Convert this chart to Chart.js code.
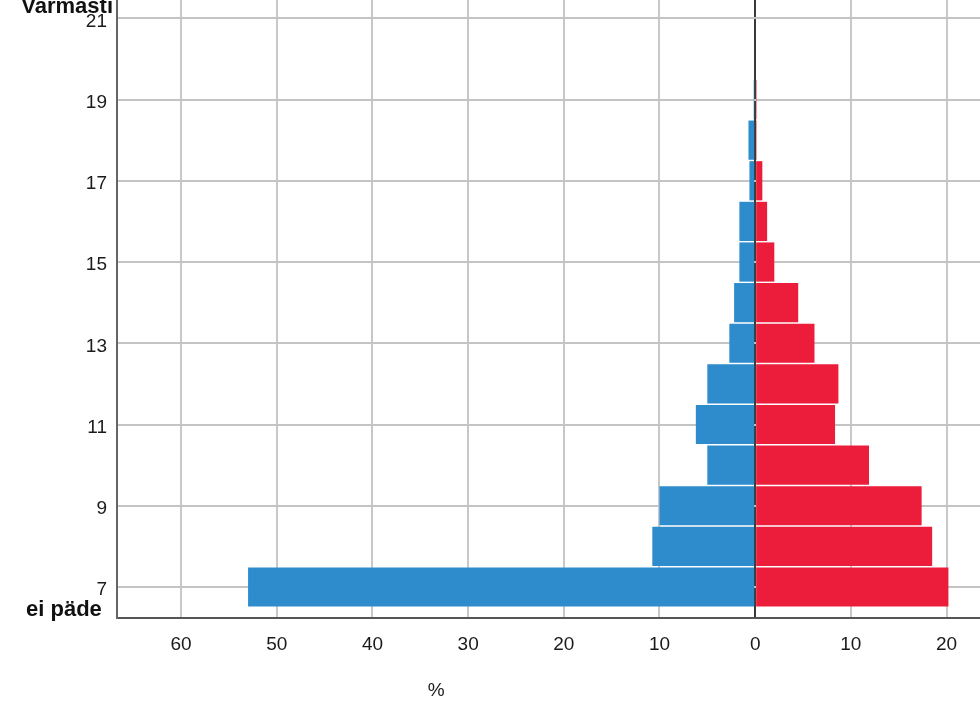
<!DOCTYPE html>
<html>
<head>
<meta charset="utf-8">
<script src="https://cdn.jsdelivr.net/npm/chart.js@4/dist/chart.umd.min.js"></script>
<style>
  html, body { margin: 0; padding: 0; background: #ffffff; }
  #wrap { width: 980px; height: 727px; position: relative; }
</style>
</head>
<body>
<div id="wrap"><canvas id="c" width="980" height="727"></canvas></div>
<script>
// Response levels (y axis)
const levels = [7, 8, 9, 10, 11, 12, 13, 14, 15, 16, 17, 18, 19, 20];
// Left (blue) group, percent
const leftGroup = [53.0, 10.75, 10.0, 5.0, 6.2, 5.0, 2.7, 2.2, 1.65, 1.65, 0.6, 0.7, 0.15, 0.1];
// Right (red) group, percent
const rightGroup = [20.2, 18.5, 17.4, 11.9, 8.35, 8.7, 6.2, 4.5, 2.0, 1.25, 0.75, 0.15, 0.15, 0];
// Tick labels
const yTicks = [7, 9, 11, 13, 15, 17, 19, 21];
const xTicks = [-60, -50, -40, -30, -20, -10, 0, 10, 20];
const topLabel = 'Varmasti';
const bottomLabel = 'ei päde';
const xTitle = '%';

const X_MIN = -66.7, X_MAX = 23.5;
const Y_MIN = 6.237, Y_MAX = 21.45;

const tickFont = { family: "'Liberation Sans', Arial, sans-serif", size: 19 };

const labelsPlugin = {
  id: 'extraLabels',
  afterDraw(chart) {
    const ctx = chart.ctx;
    const xs = chart.scales.x;
    ctx.save();
    ctx.fillStyle = '#111';
    ctx.font = "bold 22px 'Liberation Sans', Arial, sans-serif";
    ctx.textAlign = 'right';
    ctx.textBaseline = 'alphabetic';
    ctx.fillText(topLabel, 113, 13);
    ctx.textAlign = 'left';
    ctx.fillText(bottomLabel, 26, 616);
    ctx.font = "19px 'Liberation Sans', Arial, sans-serif";
    ctx.fillStyle = '#1a1a1a';
    ctx.textAlign = 'center';
    ctx.textBaseline = 'middle';
    ctx.fillText(xTitle, xs.getPixelForValue(X_MIN / 2), 691);
    ctx.restore();
  }
};

new Chart(document.getElementById('c'), {
  type: 'bar',
  data: {
    datasets: [
      {
        label: 'left',
        data: levels.map((l, i) => ({ x: -leftGroup[i], y: l })),
        backgroundColor: '#2e8bcc',
        borderWidth: 0,
        grouped: false,
        barPercentage: 1,
        categoryPercentage: 0.965
      },
      {
        label: 'right',
        data: levels.map((l, i) => ({ x: rightGroup[i], y: l })),
        backgroundColor: '#ec1d3b',
        borderWidth: 0,
        grouped: false,
        barPercentage: 1,
        categoryPercentage: 0.965
      }
    ]
  },
  options: {
    indexAxis: 'y',
    responsive: false,
    animation: false,
    layout: { padding: { top: 0, right: 0, bottom: 0, left: 0 } },
    plugins: { legend: { display: false }, tooltip: { enabled: false } },
    scales: {
      x: {
        type: 'linear',
        min: X_MIN,
        max: X_MAX,
        offset: false,
        afterBuildTicks: (s) => { s.ticks = xTicks.map(v => ({ value: v })); },
        afterFit: (s) => { s.height = 109; s.paddingLeft = 0; s.paddingRight = 0; },
        grid: {
          offset: false,
          drawTicks: false,
          color: (c) => (c.tick && c.tick.value === 0) ? '#3a3a3a' : '#c8c8c8',
          lineWidth: 2
        },
        border: { display: true, color: '#555555', width: 2 },
        ticks: {
          padding: 15,
          color: '#1a1a1a',
          font: tickFont,
          maxRotation: 0,
          autoSkip: false,
          callback: (v) => String(Math.abs(v))
        }
      },
      y: {
        type: 'linear',
        min: Y_MIN,
        max: Y_MAX,
        offset: false,
        afterBuildTicks: (s) => { s.ticks = yTicks.map(v => ({ value: v })); },
        afterFit: (s) => { s.width = 117; s.paddingTop = 0; s.paddingBottom = 0; },
        grid: {
          offset: false,
          drawTicks: false,
          color: '#c4c4c4',
          lineWidth: 2
        },
        border: { display: true, color: '#666666', width: 2 },
        ticks: {
          padding: 10,
          labelOffset: 3,
          color: '#1a1a1a',
          font: tickFont,
          autoSkip: false,
          callback: (v) => String(v)
        }
      }
    }
  },
  plugins: [labelsPlugin]
});
</script>
</body>
</html>
